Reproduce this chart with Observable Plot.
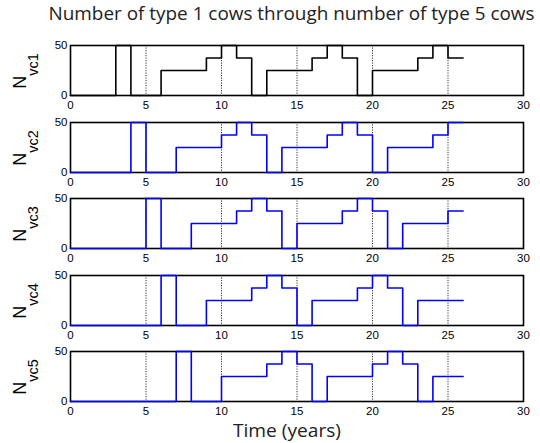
<!DOCTYPE html>
<html>
<head>
<meta charset="utf-8">
<script src="https://cdn.jsdelivr.net/npm/d3@7"></script>
<script src="https://cdn.jsdelivr.net/npm/@observablehq/plot@0.6"></script>
<style>
  body { margin: 0; background: #fff; }
  #wrap { position: relative; width: 540px; height: 443px; overflow: hidden; background: #fff; }
  .panel { position: absolute; left: 0; }
  #overlay { position: absolute; left: 0; top: 0; pointer-events: none; }
</style>
</head>
<body>
<div id="wrap"></div>
<script>
// ---- Data ----
const titleText = "Number of type 1 cows through number of type 5 cows";
const xLabelText = "Time (years)";
const seriesNames = ["vc1", "vc2", "vc3", "vc4", "vc5"];
const seriesColors = ["#000000", "#0000ff", "#0000ff", "#0000ff", "#0000ff"];
const xTicks = [0, 5, 10, 15, 20, 25, 30];
const xGrid = [5, 10, 15, 20, 25];
const yTicks = [0, 50];

// change times (years) and the value held from each time onward
const times1  = [0, 3, 4, 6, 9, 10, 11, 12, 13, 16, 17, 18, 19, 20, 23, 24, 25, 26];
const values1 = [0, 50, 0, 25, 37.5, 50, 37.5, 0, 25, 37.5, 50, 37.5, 0, 25, 37.5, 50, 37.5, 37.5];
const times2  = [0, 4, 5, 7, 10, 11, 12, 13, 14, 17, 18, 19, 20, 21, 24, 25, 26];
const values2 = [0, 50, 0, 25, 37.5, 50, 37.5, 0, 25, 37.5, 50, 37.5, 0, 25, 37.5, 50, 50];
const times3  = [0, 5, 6, 8, 11, 12, 13, 14, 15, 18, 19, 20, 21, 22, 25, 26];
const values3 = [0, 50, 0, 25, 37.5, 50, 37.5, 0, 25, 37.5, 50, 37.5, 0, 25, 37.5, 37.5];
const times4  = [0, 6, 7, 9, 12, 13, 14, 15, 16, 19, 20, 21, 22, 23, 26];
const values4 = [0, 50, 0, 25, 37.5, 50, 37.5, 0, 25, 37.5, 50, 37.5, 0, 25, 25];
const times5  = [0, 7, 8, 10, 13, 14, 15, 16, 17, 20, 21, 22, 23, 24, 26];
const values5 = [0, 50, 0, 25, 37.5, 50, 37.5, 0, 25, 37.5, 50, 37.5, 0, 25, 25];

const allTimes = [times1, times2, times3, times4, times5];
const allValues = [values1, values2, values3, values4, values5];

// ---- Layout ----
const W = 540;
const panelTops = [45, 122, 198, 275, 351];
const panelH = 50;
const mTop = 8, mBottom = 22, mLeft = 70, mRight = 17;

const wrap = document.getElementById("wrap");

seriesNames.forEach((name, i) => {
  const data = allTimes[i].map((t, j) => ({t, v: allValues[i][j]}));
  const svg = Plot.plot({
    width: W,
    height: panelH + mTop + mBottom,
    marginTop: mTop,
    marginBottom: mBottom,
    marginLeft: mLeft,
    marginRight: mRight,
    style: {fontFamily: "Liberation Sans, Arial, sans-serif", fontSize: "11.5px", background: "white", color: "black", overflow: "visible"},
    x: {domain: [0, 30], ticks: xTicks, tickSize: 0, tickPadding: 5, label: null, tickFormat: d => String(d)},
    y: {domain: [0, 50], ticks: yTicks, tickSize: 0, tickPadding: 3, label: null, tickFormat: d => String(d)},
    marks: [
      Plot.ruleX(xGrid, {stroke: "black", strokeWidth: 0.8, strokeDasharray: "1.2,1.3"}),
      Plot.frame({stroke: "black", strokeWidth: 1.6}),
      Plot.line(data, {x: "t", y: "v", curve: "step-after", stroke: seriesColors[i], strokeWidth: 1.6})
    ]
  });
  svg.classList.add("panel");
  svg.style.top = (panelTops[i] - mTop) + "px";
  // y label N_vcX
  const cy = mTop + panelH / 2 + 1;
  const txt = d3.select(svg).append("text")
    .attr("transform", `translate(26,${cy}) rotate(-90)`)
    .attr("text-anchor", "middle")
    .attr("fill", "black")
    .style("font-family", "Liberation Sans, Arial, sans-serif");
  txt.append("tspan").attr("font-size", 18).text("N");
  txt.append("tspan").attr("font-size", 14.5).attr("dy", 12).text(name);
  wrap.appendChild(svg);
});

// ---- Title and x label ----
const ov = d3.select(wrap).append("svg")
  .attr("id", "overlay")
  .attr("width", W).attr("height", 443);
ov.append("text")
  .attr("x", 291.5).attr("y", 20)
  .attr("text-anchor", "middle")
  .attr("textLength", 486)
  .attr("lengthAdjust", "spacingAndGlyphs")
  .style("font-family", "Open Sans, sans-serif")
  .style("font-size", "18px")
  .attr("fill", "#222")
  .text(titleText);
ov.append("text")
  .attr("x", 287).attr("y", 437)
  .attr("text-anchor", "middle")
  .attr("textLength", 108)
  .attr("lengthAdjust", "spacingAndGlyphs")
  .style("font-family", "Open Sans, sans-serif")
  .style("font-size", "18px")
  .attr("fill", "#222")
  .text(xLabelText);
</script>
</body>
</html>
